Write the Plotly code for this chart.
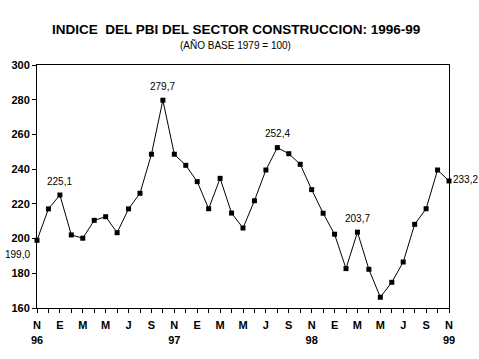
import plotly.graph_objects as go

months = ["N", "D", "E", "F", "M", "A", "M", "J", "J", "A", "S", "O"] * 3 + ["N"]
years = {0: "96", 12: "97", 24: "98", 36: "99"}
values = [199.0, 217.1, 225.1, 202.1, 200.2, 210.5, 212.6, 203.4, 217.1, 226.1,
          248.6, 279.7, 248.6, 242.2, 232.8, 217.2, 234.7, 214.7, 206.1, 221.8,
          239.5, 252.4, 248.9, 242.8, 228.2, 214.6, 202.5, 182.7, 203.7, 182.3,
          166.2, 174.8, 186.5, 208.2, 217.2, 239.5, 233.2]
labeled = [0, 2, 11, 21, 28, 36]
label_offsets = {0: (-20, -14), 2: (0, 14), 11: (0, 14), 21: (0, 14), 28: (0, 14), 36: (2, 1)}

x = list(range(len(values)))
ticktext = []
for i in x:
    if i % 2 == 0:
        t = months[i]
        if i in years:
            t += "<br>" + years[i]
        ticktext.append(t)
    else:
        ticktext.append("")

fig = go.Figure()
fig.add_trace(go.Scatter(
    x=x, y=values, mode="lines+markers",
    line=dict(color="black", width=1),
    marker=dict(symbol="square", size=5, color="black"),
    hoverinfo="skip", showlegend=False, cliponaxis=False,
))

annotations = []
for i in labeled:
    dx, dy = label_offsets[i]
    annotations.append(dict(
        x=i, y=values[i], xref="x", yref="y",
        text=f"{values[i]:.1f}".replace(".", ","),
        showarrow=False, xshift=dx, yshift=dy,
        xanchor="left" if i == 36 else "center",
        font=dict(family="Liberation Sans, Arial, sans-serif", size=10, color="black"),
    ))

annotations.append(dict(
    x=0.483, y=1.148, xref="paper", yref="paper", xanchor="center", yanchor="middle",
    text="<b>INDICE&nbsp; DEL PBI DEL SECTOR CONSTRUCCION: 1996-99</b>", showarrow=False,
    font=dict(family="Liberation Sans, Arial, sans-serif", size=13.5, color="black"),
))
annotations.append(dict(
    x=0.483, y=1.082, xref="paper", yref="paper", xanchor="center", yanchor="middle",
    text="(AÑO BASE 1979 = 100)", showarrow=False,
    font=dict(family="Liberation Sans, Arial, sans-serif", size=10, color="black"),
))

fig.update_layout(
    width=479, height=359,
    margin=dict(l=37, r=30, t=65, b=51, autoexpand=False),
    paper_bgcolor="white", plot_bgcolor="white",
    annotations=annotations,
    font=dict(family="Liberation Sans, Arial, sans-serif", color="black"),
)
fig.update_xaxes(
    range=[0, 36], tickmode="array", tickvals=x, ticktext=ticktext,
    ticks="outside", ticklen=4, tickcolor="black", tickwidth=1,
    showline=True, linecolor="black", linewidth=1, mirror=True,
    showgrid=False, zeroline=False, automargin=False, ticklabelstandoff=3,
    tickfont=dict(family="Liberation Sans, Arial, sans-serif", size=11, color="black", weight="bold"),
)
fig.update_yaxes(
    range=[160, 300], tickmode="linear", tick0=160, dtick=20,
    ticks="outside", ticklen=4, tickcolor="black", tickwidth=1,
    showline=True, linecolor="black", linewidth=1, mirror=True,
    showgrid=False, zeroline=False, automargin=False,
    tickfont=dict(family="Liberation Sans, Arial, sans-serif", size=11, color="black", weight="bold"),
)

fig.write_html(
    "out.html",
    config={"displayModeBar": False},
    post_script="document.body.style.margin='0';document.body.style.overflow='hidden';",
)
